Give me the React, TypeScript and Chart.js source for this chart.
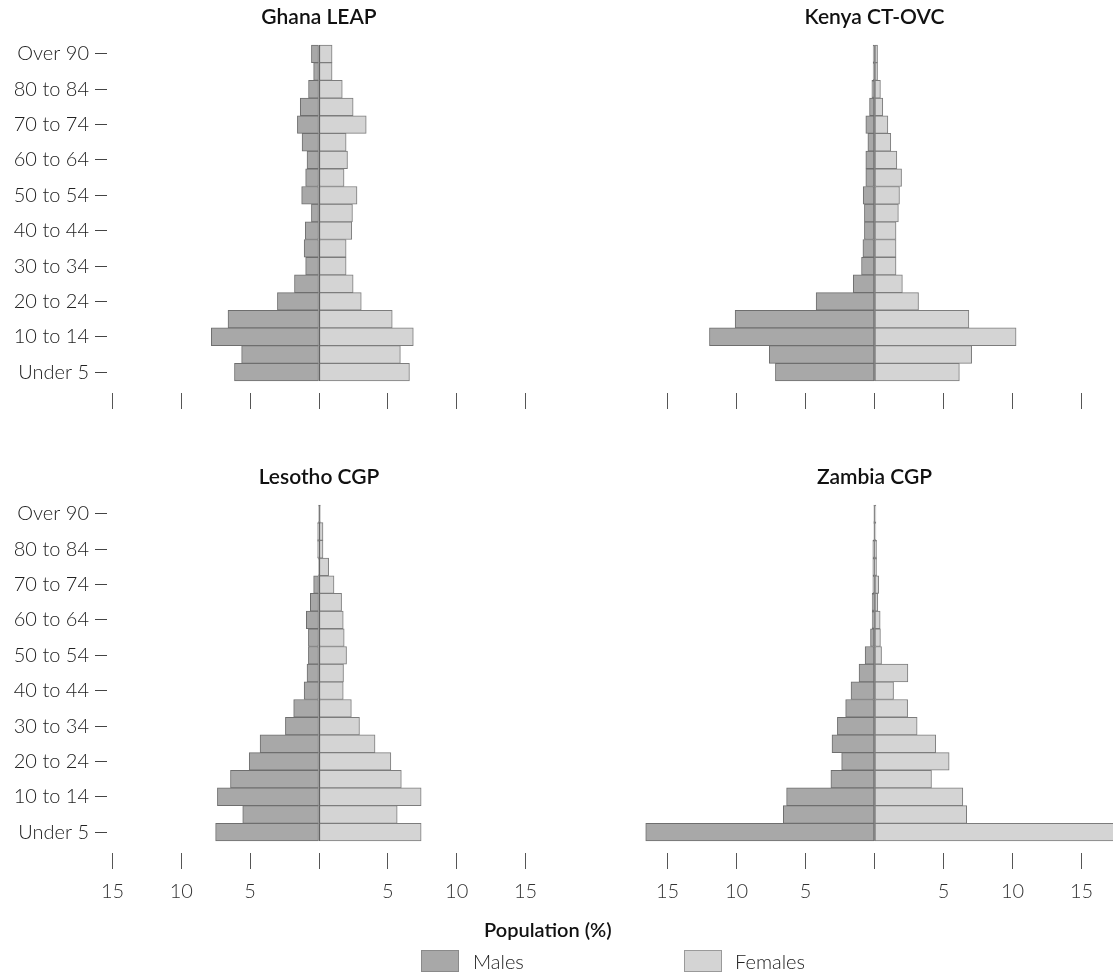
import React, { useEffect, useRef } from "react";
import { Chart, registerables } from "chart.js";

Chart.register(...registerables);

const ageGroups = [
  "Under 5", "5 to 9", "10 to 14", "15 to 19", "20 to 24", "25 to 29", "30 to 34",
  "35 to 39", "40 to 44", "45 to 49", "50 to 54", "55 to 59", "60 to 64", "65 to 69",
  "70 to 74", "75 to 79", "80 to 84", "85 to 89", "Over 90",
];

const xTickValues = [-15, -10, -5, 0, 5, 10, 15];

const maleGhana = [6.14, 5.62, 7.82, 6.61, 3.02, 1.78, 0.97, 1.08, 1.0, 0.55, 1.26, 0.97, 0.87, 1.23, 1.57, 1.36, 0.76, 0.39, 0.55];
const femaleGhana = [6.57, 5.91, 6.85, 5.32, 3.07, 2.48, 1.97, 1.97, 2.38, 2.43, 2.76, 1.82, 2.07, 1.97, 3.43, 2.48, 1.69, 0.95, 0.95];

const maleKenya = [7.18, 7.62, 11.96, 10.1, 4.23, 1.54, 0.94, 0.84, 0.73, 0.73, 0.82, 0.63, 0.63, 0.48, 0.63, 0.36, 0.19, 0.1, 0.1];
const femaleKenya = [6.15, 7.04, 10.26, 6.84, 3.19, 2.02, 1.56, 1.56, 1.56, 1.73, 1.81, 1.96, 1.62, 1.18, 0.97, 0.6, 0.43, 0.22, 0.22];

const maleLesotho = [7.51, 5.54, 7.38, 6.43, 5.07, 4.28, 2.44, 1.84, 1.08, 0.87, 0.77, 0.77, 0.92, 0.63, 0.39, 0.05, 0.1, 0.1, 0.03];
const femaleLesotho = [7.42, 5.68, 7.42, 5.98, 5.22, 4.07, 2.94, 2.35, 1.76, 1.78, 2.0, 1.83, 1.76, 1.64, 1.09, 0.7, 0.29, 0.29, 0.1];

const maleZambia = [16.58, 6.61, 6.37, 3.16, 2.38, 3.08, 2.69, 2.09, 1.7, 1.12, 0.68, 0.29, 0.17, 0.17, 0.12, 0.12, 0.12, 0.05, 0.05];
const femaleZambia = [17.5, 6.68, 6.4, 4.13, 5.41, 4.44, 3.09, 2.4, 1.38, 2.42, 0.51, 0.43, 0.41, 0.24, 0.31, 0.15, 0.15, 0.1, 0.1];

const FONT = "Lato, 'Open Sans', sans-serif";
const MALE_FILL = "#a8a8a8";
const FEMALE_FILL = "#d4d4d4";

type PanelProps = {
  title: string;
  male: number[];
  female: number[];
  showY: boolean;
  showXLabels: boolean;
  centerColor: string;
  left: number;
  top: number;
  width: number;
  height: number;
  padLeft: number;
  padRight: number;
  xAxisHeight: number;
};

function Panel(p: PanelProps) {
  const ref = useRef<HTMLCanvasElement | null>(null);
  useEffect(() => {
    if (!ref.current) return;
    const yScale: any = {
      type: "category",
      stacked: true,
      reverse: true,
      display: p.showY,
      offset: true,
      border: { display: false },
      grid: {
        display: true,
        drawOnChartArea: false,
        drawTicks: true,
        offset: false,
        tickLength: 12,
        tickWidth: 1,
        tickColor: (ctx: any) => (ctx.index % 2 === 0 ? "#444" : "rgba(0,0,0,0)"),
      },
      ticks: {
        autoSkip: false,
        padding: 6,
        color: "#222",
        font: { family: FONT, size: 20, weight: "300" },
        callback: (_v: any, i: number) => (i % 2 === 0 ? ageGroups[i] : ""),
      },
    };
    if (p.showY) {
      yScale.afterFit = (s: any) => {
        s.width = 107;
      };
    }
    const chart = new Chart(ref.current, {
      type: "bar",
      data: {
        labels: ageGroups,
        datasets: [
          {
            label: "Males",
            data: p.male.map((v) => -v),
            backgroundColor: MALE_FILL,
            borderColor: "#6e6e6e",
            borderWidth: 1,
            borderSkipped: false,
            barPercentage: 1,
            categoryPercentage: 1,
            clip: false,
          } as any,
          {
            label: "Females",
            data: p.female,
            backgroundColor: FEMALE_FILL,
            borderColor: "#7c7c7c",
            borderWidth: 1,
            borderSkipped: false,
            barPercentage: 1,
            categoryPercentage: 1,
            clip: false,
          } as any,
        ],
      },
      options: {
        indexAxis: "y",
        animation: false,
        responsive: true,
        maintainAspectRatio: false,
        layout: { padding: { left: p.padLeft, right: p.padRight, top: 0, bottom: 0 } },
        plugins: {
          legend: { display: false },
          tooltip: { enabled: false },
          title: {
            display: true,
            text: p.title,
            fullSize: false,
            color: "#111",
            font: { family: FONT, size: 21, weight: "600" },
            padding: { top: 5, bottom: 14.8 },
          },
        },
        scales: {
          x: {
            type: "linear",
            stacked: true,
            min: -15.4,
            max: 15.4,
            z: 1,
            afterBuildTicks: (s: any) => {
              s.ticks = xTickValues.map((v) => ({ value: v }));
            },
            afterFit: (s: any) => {
              s.height = p.xAxisHeight;
            },
            border: { display: false },
            grid: {
              display: true,
              drawOnChartArea: true,
              drawTicks: true,
              tickLength: 28,
              lineWidth: 1,
              color: (ctx: any) =>
                ctx.tick && ctx.tick.value === 0 ? p.centerColor : "rgba(0,0,0,0)",
              tickColor: "#555",
              tickWidth: 1,
              tickBorderDash: [0, 12, 16, 200],
            },
            ticks: {
              display: p.showXLabels,
              autoSkip: false,
              maxRotation: 0,
              padding: 11,
              color: "#333",
              font: { family: FONT, size: 20, weight: "300" },
              callback: (v: any) => (v === 0 ? "" : String(Math.abs(v))),
            },
          } as any,
          y: yScale,
        },
      },
    });
    return () => chart.destroy();
  }, []);
  return (
    <div
      style={{
        position: "absolute",
        left: p.left,
        top: p.top,
        width: p.width,
        height: p.height,
      }}
    >
      <canvas ref={ref} />
    </div>
  );
}

export default function App() {
  const textStyle: React.CSSProperties = {
    position: "absolute",
    fontFamily: FONT,
    fontSize: 20,
    lineHeight: "24px",
    color: "#222",
    whiteSpace: "nowrap",
  };
  return (
    <div
      style={{
        position: "absolute",
        left: 0,
        top: 0,
        width: 1113,
        height: 977,
        background: "#fff",
        overflow: "hidden",
      }}
    >
      <Panel title="Ghana LEAP" male={maleGhana} female={femaleGhana} showY={true} showXLabels={false}
        centerColor="#333" left={0} top={0} width={556} height={420} padLeft={0} padRight={25} xAxisHeight={39} />
      <Panel title="Kenya CT-OVC" male={maleKenya} female={femaleKenya} showY={false} showXLabels={false}
        centerColor="#888" left={556} top={0} width={557} height={420} padLeft={106} padRight={26} xAxisHeight={39} />
      <Panel title="Lesotho CGP" male={maleLesotho} female={femaleLesotho} showY={true} showXLabels={true}
        centerColor="#333" left={0} top={460} width={556} height={460} padLeft={0} padRight={25} xAxisHeight={79} />
      <Panel title="Zambia CGP" male={maleZambia} female={femaleZambia} showY={false} showXLabels={true}
        centerColor="#888" left={556} top={460} width={557} height={460} padLeft={106} padRight={26} xAxisHeight={79} />

      <div style={{ ...textStyle, left: 484, top: 917, fontWeight: 600, color: "#111" }}>Population (%)</div>

      <div style={{ position: "absolute", left: 421, top: 950, width: 38, height: 22, boxSizing: "border-box", background: MALE_FILL, border: "1px solid #8a8a8a" }} />
      <div style={{ ...textStyle, left: 473, top: 949, fontWeight: 300 }}>Males</div>

      <div style={{ position: "absolute", left: 684, top: 950, width: 38, height: 22, boxSizing: "border-box", background: FEMALE_FILL, border: "1px solid #9a9a9a" }} />
      <div style={{ ...textStyle, left: 735, top: 949, fontWeight: 300 }}>Females</div>
    </div>
  );
}
